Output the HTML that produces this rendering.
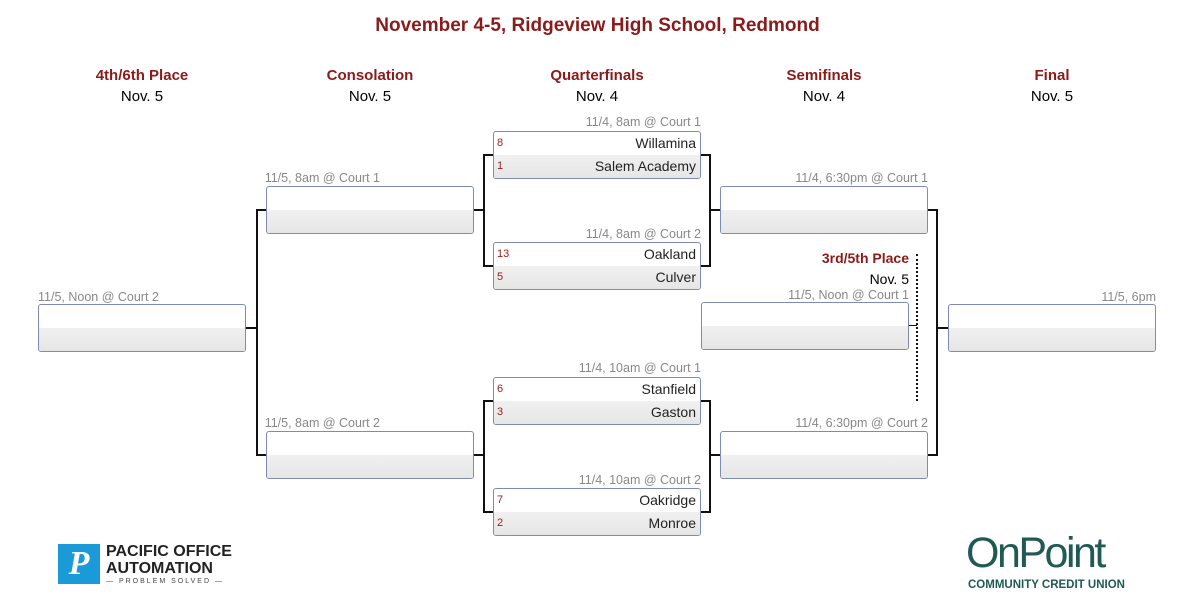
<!DOCTYPE html><html><head><style>
body{margin:0;width:1200px;height:596px;background:#fff;font-family:"Liberation Sans",sans-serif;position:relative;overflow:hidden}
.a{position:absolute}
.t{color:#8b1a1a;font-weight:bold}
.h{position:absolute;width:200px;text-align:center;font-size:15px}
.h b{display:block;color:#8b1a1a;font-size:15px;margin-bottom:4px}
.box{position:absolute;width:206px;height:46px;border:1px solid #7d8bb5;border-radius:3px;overflow:hidden;background:#fff}
.r{height:23px;position:relative;font-size:14px;line-height:23px;text-align:right;padding-right:4px;color:#222}
.r2{background:linear-gradient(#f0f0f0,#e6e6e6)}
.r span{position:absolute;left:3px;font-size:11px;color:#9b1b1b}
.lb{position:absolute;width:208px;text-align:right;font-size:12.5px;color:#888}
.l{position:absolute;background:#111}
</style></head><body>
<div class="a t" style="left:0;width:1195px;text-align:center;top:15px;font-size:19px">November 4-5, Ridgeview High School, Redmond</div>
<div class="h" style="left:42px;top:67px"><b>4th/6th Place</b>Nov. 5</div>
<div class="h" style="left:270px;top:67px"><b>Consolation</b>Nov. 5</div>
<div class="h" style="left:497px;top:67px"><b>Quarterfinals</b>Nov. 4</div>
<div class="h" style="left:724px;top:67px"><b>Semifinals</b>Nov. 4</div>
<div class="h" style="left:952px;top:67px"><b>Final</b>Nov. 5</div>

<div class="lb" style="left:493px;top:115px">11/4, 8am @ Court 1</div>
<div class="box" style="left:493px;top:131px"><div class="r"><span>8</span>Willamina</div><div class="r r2"><span>1</span>Salem Academy</div></div>
<div class="lb" style="left:493px;top:227px">11/4, 8am @ Court 2</div>
<div class="box" style="left:493px;top:242px"><div class="r"><span>13</span>Oakland</div><div class="r r2"><span>5</span>Culver</div></div>
<div class="lb" style="left:493px;top:361px">11/4, 10am @ Court 1</div>
<div class="box" style="left:493px;top:377px"><div class="r"><span>6</span>Stanfield</div><div class="r r2"><span>3</span>Gaston</div></div>
<div class="lb" style="left:493px;top:473px">11/4, 10am @ Court 2</div>
<div class="box" style="left:493px;top:488px"><div class="r"><span>7</span>Oakridge</div><div class="r r2"><span>2</span>Monroe</div></div>

<div class="lb" style="left:172px;top:171px;width:208px">11/5, 8am @ Court 1</div>
<div class="box" style="left:266px;top:186px"><div class="r"></div><div class="r r2"></div></div>
<div class="lb" style="left:172px;top:416px">11/5, 8am @ Court 2</div>
<div class="box" style="left:266px;top:431px"><div class="r"></div><div class="r r2"></div></div>
<div class="a" style="left:38px;top:290px;font-size:12.5px;color:#888">11/5, Noon @ Court 2</div>
<div class="box" style="left:38px;top:304px"><div class="r"></div><div class="r r2"></div></div>

<div class="lb" style="left:720px;top:171px">11/4, 6:30pm @ Court 1</div>
<div class="box" style="left:720px;top:186px"><div class="r"></div><div class="r r2"></div></div>
<div class="lb" style="left:720px;top:416px">11/4, 6:30pm @ Court 2</div>
<div class="box" style="left:720px;top:431px"><div class="r"></div><div class="r r2"></div></div>
<div class="a t" style="left:760px;width:149px;text-align:right;top:250px;font-size:14px">3rd/5th Place</div>
<div class="a" style="left:760px;width:149px;text-align:right;top:271px;font-size:14px">Nov. 5</div>
<div class="lb" style="left:701px;top:288px">11/5, Noon @ Court 1</div>
<div class="box" style="left:701px;top:302px"><div class="r"></div><div class="r r2"></div></div>
<div class="lb" style="left:948px;top:290px">11/5, 6pm</div>
<div class="box" style="left:948px;top:304px"><div class="r"></div><div class="r r2"></div></div>

<div class="l" style="left:701px;top:154px;width:10px;height:2px"></div>
<div class="l" style="left:701px;top:265px;width:10px;height:2px"></div>
<div class="l" style="left:709px;top:154px;width:2px;height:113px"></div>
<div class="l" style="left:709px;top:209px;width:11px;height:2px"></div>
<div class="l" style="left:701px;top:400px;width:10px;height:2px"></div>
<div class="l" style="left:701px;top:511px;width:10px;height:2px"></div>
<div class="l" style="left:709px;top:400px;width:2px;height:113px"></div>
<div class="l" style="left:709px;top:454px;width:11px;height:2px"></div>

<div class="l" style="left:484px;top:154px;width:9px;height:2px"></div>
<div class="l" style="left:484px;top:265px;width:9px;height:2px"></div>
<div class="l" style="left:483px;top:154px;width:2px;height:113px"></div>
<div class="l" style="left:474px;top:209px;width:10px;height:2px"></div>
<div class="l" style="left:484px;top:400px;width:9px;height:2px"></div>
<div class="l" style="left:484px;top:511px;width:9px;height:2px"></div>
<div class="l" style="left:483px;top:400px;width:2px;height:113px"></div>
<div class="l" style="left:474px;top:454px;width:10px;height:2px"></div>

<div class="l" style="left:257px;top:209px;width:9px;height:2px"></div>
<div class="l" style="left:257px;top:454px;width:9px;height:2px"></div>
<div class="l" style="left:256px;top:209px;width:2px;height:247px"></div>
<div class="l" style="left:246px;top:327px;width:11px;height:2px"></div>

<div class="l" style="left:928px;top:209px;width:10px;height:2px"></div>
<div class="l" style="left:928px;top:454px;width:10px;height:2px"></div>
<div class="l" style="left:936px;top:209px;width:2px;height:247px"></div>
<div class="l" style="left:936px;top:327px;width:12px;height:2px"></div>
<div class="a" style="left:916px;top:254px;height:147px;border-left:2px dotted #111"></div>
<div class="l" style="left:909px;top:325px;width:8px;height:1px"></div>

<div class="a" style="left:58px;top:544px;width:42px;height:40px;background:#1a9ad6;color:#fff;font:italic bold 34px 'Liberation Serif',serif;text-align:center;line-height:40px">P</div>
<div class="a" style="left:106px;top:543px;font-size:16px;font-weight:bold;line-height:17px;color:#222">PACIFIC OFFICE<br>AUTOMATION</div>
<div class="a" style="left:106px;top:578px;font-size:7px;letter-spacing:2px;color:#444">— PROBLEM SOLVED —</div>
<div class="a" style="left:966px;top:530px;font-size:43px;color:#1f5a55;letter-spacing:-2.5px;line-height:46px">OnPoint</div>
<div class="a" style="left:968px;top:579px;font-size:11.5px;font-weight:bold;color:#1f5a55;letter-spacing:0px">COMMUNITY CREDIT UNION</div>
</body></html>
